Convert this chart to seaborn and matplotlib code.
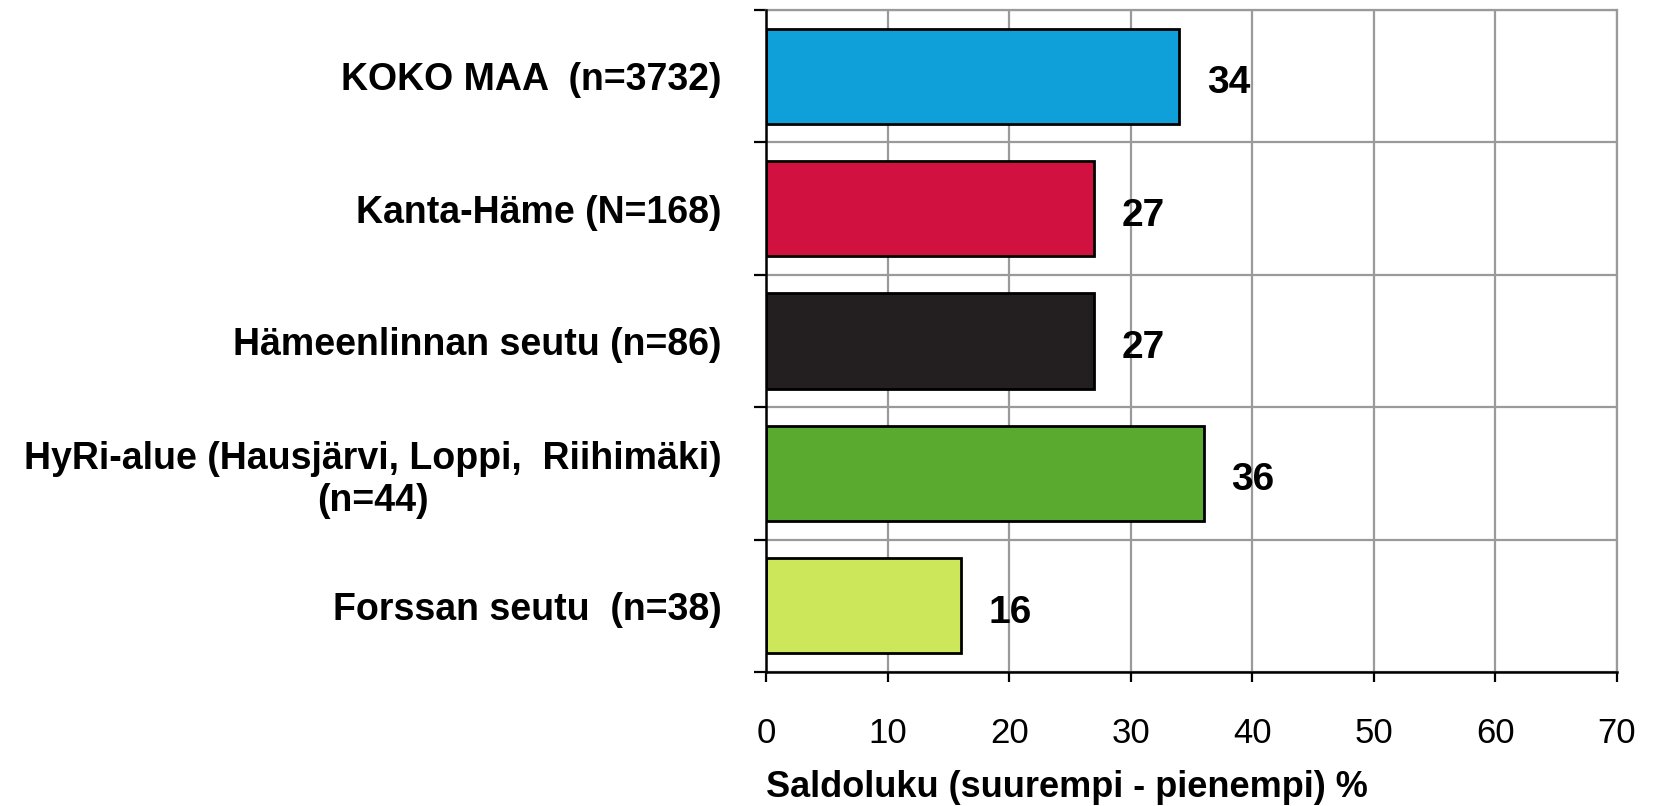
import matplotlib
matplotlib.use("Agg")
import matplotlib.pyplot as plt
import seaborn as sns
import pandas as pd
import numpy as np

categories = [
    "KOKO MAA  (n=3732)",
    "Kanta-Häme (N=168)",
    "Hämeenlinnan seutu (n=86)",
    "HyRi-alue (Hausjärvi, Loppi,  Riihimäki)\n(n=44)",
    "Forssan seutu  (n=38)",
]
values = [34, 27, 27, 36, 16]
colors = ["#0FA0DA", "#D11241", "#231F20", "#59AA2E", "#CCE75A"]
x_ticks = [0, 10, 20, 30, 40, 50, 60, 70]
x_label = "Saldoluku (suurempi - pienempi) %"

sns.set_theme(style="white")
plt.rcParams["font.family"] = ["Liberation Sans", "DejaVu Sans"]
plt.rcParams["text.color"] = "black"
plt.rcParams["axes.labelcolor"] = "black"
plt.rcParams["xtick.color"] = "black"
plt.rcParams["ytick.color"] = "black"

df = pd.DataFrame({"cat": categories, "val": values})

fig = plt.figure(figsize=(16.58, 8.06), dpi=100)
ax = fig.add_axes([0.462, 0.1663, 0.9753 - 0.462, 0.9876 - 0.1663])

sns.barplot(data=df, y="cat", x="val", hue="cat", palette=colors, saturation=1,
            legend=False, orient="h", width=0.72, edgecolor="black", linewidth=2.0,
            ax=ax, zorder=3)

grid_c = "#9A9A9A"
ax.set_xlim(0, 70)
ax.set_ylim(len(categories) - 0.5, -0.5)
ax.set_xticks(x_ticks)
ax.set_xticklabels([str(t) for t in x_ticks], fontsize=25, color="black")

ax.set_yticks(range(len(categories)))
ax.set_yticklabels(categories, fontsize=27, fontweight="bold", multialignment="center",
                   color="black", va="center_baseline")
ax.set_yticks(np.arange(-0.5, len(categories), 1.0), minor=True)

ax.tick_params(axis="y", which="major", length=0, pad=32)
ax.tick_params(axis="y", which="minor", length=9, width=1.6, color="black", direction="out", left=True)
ax.tick_params(axis="x", which="major", length=7.5, width=1.6, color="black", direction="out",
               bottom=True, pad=25)

ax.grid(False)
ax.grid(True, which="minor", axis="y", color=grid_c, linewidth=1.6, zorder=0)
ax.grid(True, which="major", axis="x", color=grid_c, linewidth=1.6, zorder=0)
ax.set_axisbelow(True)

for side in ["top", "right"]:
    ax.spines[side].set_color(grid_c)
    ax.spines[side].set_linewidth(1.6)
for side in ["left", "bottom"]:
    ax.spines[side].set_color("black")
    ax.spines[side].set_linewidth(1.8)
    ax.spines[side].set_zorder(5)

ax.set_ylabel("")
ax.set_xlabel(x_label, fontsize=26, fontweight="bold", loc="left", labelpad=14, color="black")

for i, v in enumerate(values):
    ax.annotate(str(v), xy=(v, i), xytext=(20, -5), textcoords="offset points",
                ha="left", va="center", fontsize=28, fontweight="bold", color="black")

fig.savefig("out.png", dpi=100, facecolor="white")
